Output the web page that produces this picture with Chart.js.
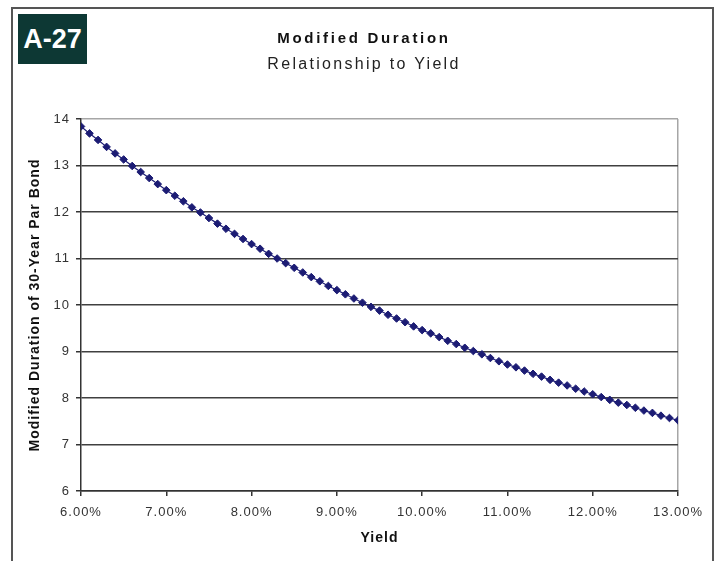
<!DOCTYPE html>
<html>
<head>
<meta charset="utf-8">
<script src="https://cdn.jsdelivr.net/npm/chart.js@4.4.1/dist/chart.umd.min.js"></script>
<style>
  html, body { margin: 0; padding: 0; background: #fff; }
  body { width: 720px; height: 561px; overflow: hidden; position: relative; font-family: "Liberation Sans", Arial, sans-serif; }
  #chart { position: absolute; left: 0; top: 0; }
  .frame { position: absolute; left: 11px; top: 7px; width: 703px; height: 620px; border: 2px solid #555; box-sizing: border-box; pointer-events: none; }
  .badge { position: absolute; left: 18px; top: 14px; width: 69px; height: 50px; background: #0d3834; color: #fff;
           display: flex; align-items: center; justify-content: center; font-weight: bold; font-size: 27px; line-height: 27px; }
  .title { position: absolute; left: 0; width: 728px; text-align: center; color: #111; white-space: nowrap; }
  .t1 { top: 30px; font-size: 15px; line-height: 15px; font-weight: bold; letter-spacing: 2.7px; }
  .t2 { top: 56px; font-size: 16px; line-height: 16px; letter-spacing: 2.3px; color: #222; }
</style>
</head>
<body>
<canvas id="chart" width="720" height="561"></canvas>
<div class="frame"></div>
<div class="badge">A-27</div>
<div class="title t1">Modified Duration</div>
<div class="title t2">Relationship to Yield</div>
<script>
// Yield (%) on a 30-year par bond
const yields = [
  6.0, 6.1, 6.2, 6.3, 6.4, 6.5, 6.6, 6.7, 6.8, 6.9,
  7.0, 7.1, 7.2, 7.3, 7.4, 7.5, 7.6, 7.7, 7.8, 7.9,
  8.0, 8.1, 8.2, 8.3, 8.4, 8.5, 8.6, 8.7, 8.8, 8.9,
  9.0, 9.1, 9.2, 9.3, 9.4, 9.5, 9.6, 9.7, 9.8, 9.9,
  10.0, 10.1, 10.2, 10.3, 10.4, 10.5, 10.6, 10.7, 10.8, 10.9,
  11.0, 11.1, 11.2, 11.3, 11.4, 11.5, 11.6, 11.7, 11.8, 11.9,
  12.0, 12.1, 12.2, 12.3, 12.4, 12.5, 12.6, 12.7, 12.8, 12.9,
  13.0
];

// Modified duration at each yield
const modifiedDuration = [
  13.84, 13.69, 13.55, 13.40, 13.26, 13.13, 12.99, 12.86, 12.73, 12.60,
  12.47, 12.35, 12.23, 12.10, 11.99, 11.87, 11.75, 11.64, 11.53, 11.42,
  11.31, 11.21, 11.10, 11.00, 10.90, 10.80, 10.70, 10.60, 10.51, 10.41,
  10.32, 10.23, 10.14, 10.05, 9.96, 9.88, 9.79, 9.71, 9.63, 9.54,
  9.46, 9.39, 9.31, 9.23, 9.16, 9.08, 9.01, 8.94, 8.86, 8.79,
  8.72, 8.66, 8.59, 8.52, 8.46, 8.39, 8.33, 8.27, 8.20, 8.14,
  8.08, 8.02, 7.96, 7.90, 7.85, 7.79, 7.73, 7.68, 7.62, 7.57,
  7.52
];

const xTicks = [6, 7, 8, 9, 10, 11, 12, 13];
const yTicks = [6, 7, 8, 9, 10, 11, 12, 13, 14];

const navy = '#1c1c74';
const fontFamily = '"Liberation Sans", Arial, sans-serif';

// slightly widened glyph spacing for all canvas text
const spacing = {
  id: 'spacing',
  beforeDraw(chart) { chart.ctx.letterSpacing = '1px'; }
};

new Chart(document.getElementById('chart'), {
  type: 'line',
  data: {
    datasets: [{
      data: yields.map((x, i) => ({ x: x, y: modifiedDuration[i] })),
      borderColor: navy,
      borderWidth: 1.2,
      backgroundColor: navy,
      pointStyle: 'rectRot',
      pointRadius: 3.8,
      pointBorderWidth: 1,
      pointBackgroundColor: navy,
      pointBorderColor: navy,
      tension: 0,
      fill: false
    }]
  },
  options: {
    responsive: false,
    animation: false,
    devicePixelRatio: 1,
    layout: { padding: { left: 20, right: 42, top: 119, bottom: 10 } },
    plugins: { legend: { display: false }, tooltip: { enabled: false }, title: { display: false } },
    scales: {
      x: {
        type: 'linear',
        min: 6, max: 13,
        afterBuildTicks(scale) { scale.ticks = xTicks.map(v => ({ value: v })); },
        afterFit(scale) { scale.height = 60; },
        ticks: {
          autoSkip: false, maxRotation: 0, padding: 9,
          color: '#333',
          font: { family: fontFamily, size: 13 },
          callback: v => v.toFixed(2) + '%'
        },
        grid: {
          color: c => (c.tick && c.tick.value === 13) ? '#a6a6a6' : 'rgba(0,0,0,0)',
          tickColor: '#333',
          tickLength: 5,
          lineWidth: 1.5
        },
        border: { color: '#333', width: 1.5 },
        title: {
          display: true, text: 'Yield', color: '#111',
          font: { family: fontFamily, size: 14, weight: 'bold' },
          padding: { top: 0, bottom: 4 }
        }
      },
      y: {
        min: 6, max: 14,
        afterBuildTicks(scale) { scale.ticks = yTicks.map(v => ({ value: v })); },
        afterFit(scale) { scale.width = 61; },
        ticks: {
          padding: 6, color: '#333',
          font: { family: fontFamily, size: 13 }
        },
        grid: {
          color: c => (c.tick && c.tick.value === 14) ? '#a6a6a6' : '#404040',
          tickColor: '#333',
          tickLength: 5,
          lineWidth: 1.5
        },
        border: { color: '#333', width: 1.5 },
        title: {
          display: true, text: 'Modified Duration of 30-Year Par Bond', color: '#111',
          font: { family: fontFamily, size: 14, weight: 'bold' },
          padding: { top: 7, bottom: 0 }
        }
      }
    }
  },
  plugins: [spacing]
});
</script>
</body>
</html>
